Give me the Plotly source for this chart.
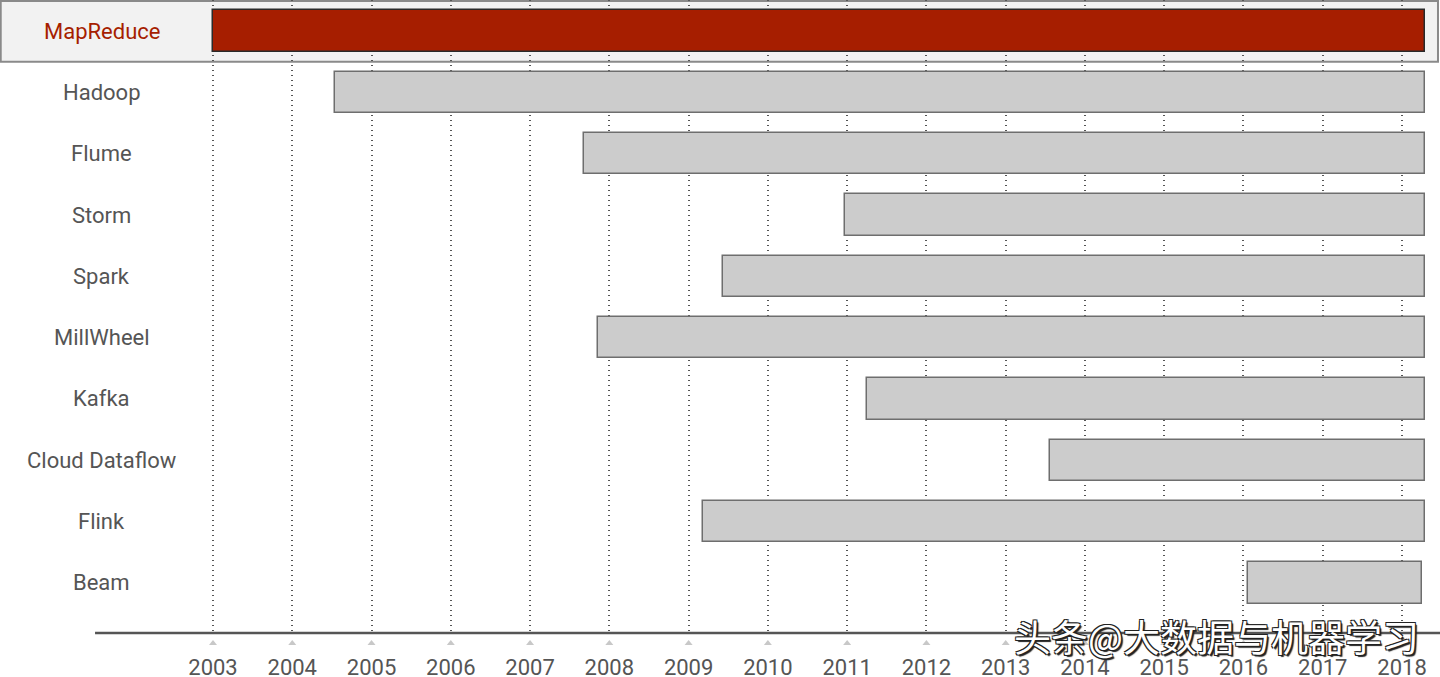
import plotly.graph_objects as go

# стартовые годы проектов (оценка по картинке), все тянутся до ~2018.3
systems = ['MapReduce', 'Hadoop', 'Flume', 'Storm', 'Spark', 'MillWheel',
           'Kafka', 'Cloud Dataflow', 'Flink', 'Beam']
start_year = [2003.0, 2004.54, 2007.68, 2010.97, 2009.43, 2007.86,
              2011.25, 2013.56, 2009.18, 2016.06]
end_year = [2018.29, 2018.29, 2018.29, 2018.29, 2018.29, 2018.29,
            2018.29, 2018.29, 2018.29, 2018.25]
years = list(range(2003, 2019))
highlight = 'MapReduce'
watermark = '头条@大数据与机器学习'

RED = '#a61e00'
GREY_TXT = '#555555'

rows = list(range(len(systems)))
durations = [e - s for s, e in zip(start_year, end_year)]
fill = [RED if s == highlight else '#cccccc' for s in systems]
edge = ['#2a2a2a' if s == highlight else '#6e6e6e' for s in systems]

fig = go.Figure()
fig.add_trace(go.Bar(
    y=rows, x=durations, base=start_year, orientation='h', width=0.67,
    marker=dict(color=fill, line=dict(color=edge, width=1.5)),
    showlegend=False, hoverinfo='skip',
))

# маленькие треугольники под осью (scatter за осью не рисуется, поэтому shapes)
for yr in years:
    fig.add_shape(type='path', xref='x', xsizemode='pixel', xanchor=yr,
                  yref='paper', ysizemode='pixel', yanchor=0,
                  path='M -4,-12 L 4,-12 L 0,-7 Z',
                  fillcolor='#c8c8c8', line=dict(width=0))

# подписи строк
for i, name in enumerate(systems):
    fig.add_annotation(
        x=0.0705, xref='paper', y=i, yref='y', text=name, showarrow=False,
        xanchor='center', yanchor='middle',
        font=dict(family='Roboto', size=22,
                  color=RED if name == highlight else GREY_TXT),
    )

# рамка вокруг выделенной строки
hi = systems.index(highlight)
fig.add_shape(type='rect', xref='paper', yref='y', layer='between',
              x0=0.0005, x1=0.9986, y0=hi - 0.49, y1=hi + 0.5,
              fillcolor='#f2f2f2', line=dict(color='#8a8a8a', width=2))

# линия оси
fig.add_shape(type='line', xref='paper', yref='paper',
              x0=0.066, x1=1.0, y0=0, y1=0,
              line=dict(color='#555555', width=2.5))

fig.add_annotation(
    x=0.845, xref='paper', y=-0.005, yref='paper', text=watermark,
    showarrow=False, xanchor='center', yanchor='middle',
    font=dict(family='Noto Sans CJK SC', size=37, color='white',
              shadow='1px 1px 0 #222, -1px -1px 0 #222, 1px -1px 0 #222, -1px 1px 0 #222, 2px 2px 1px #222'),
)

fig.update_xaxes(
    range=[2000.313, 2018.479], tickvals=years, ticktext=[str(y) for y in years],
    showgrid=True, gridcolor='#555555', griddash='1px,4px', gridwidth=1.5,
    zeroline=False, showline=False, ticks='', ticklabelstandoff=19,
    tickfont=dict(family='Roboto', size=22, color=GREY_TXT),
    automargin=False,
)
fig.update_yaxes(
    range=[9.816, -0.506], showticklabels=False, showgrid=False,
    zeroline=False, showline=False, automargin=False,
)
fig.update_layout(
    width=1440, height=677,
    margin=dict(l=0, r=0, t=0, b=44),
    plot_bgcolor='white', paper_bgcolor='white',
    bargap=0,
)

fig.write_html('out.html', config={'displayModeBar': False},
               post_script="document.body.style.margin='0';document.body.style.overflow='hidden';")
